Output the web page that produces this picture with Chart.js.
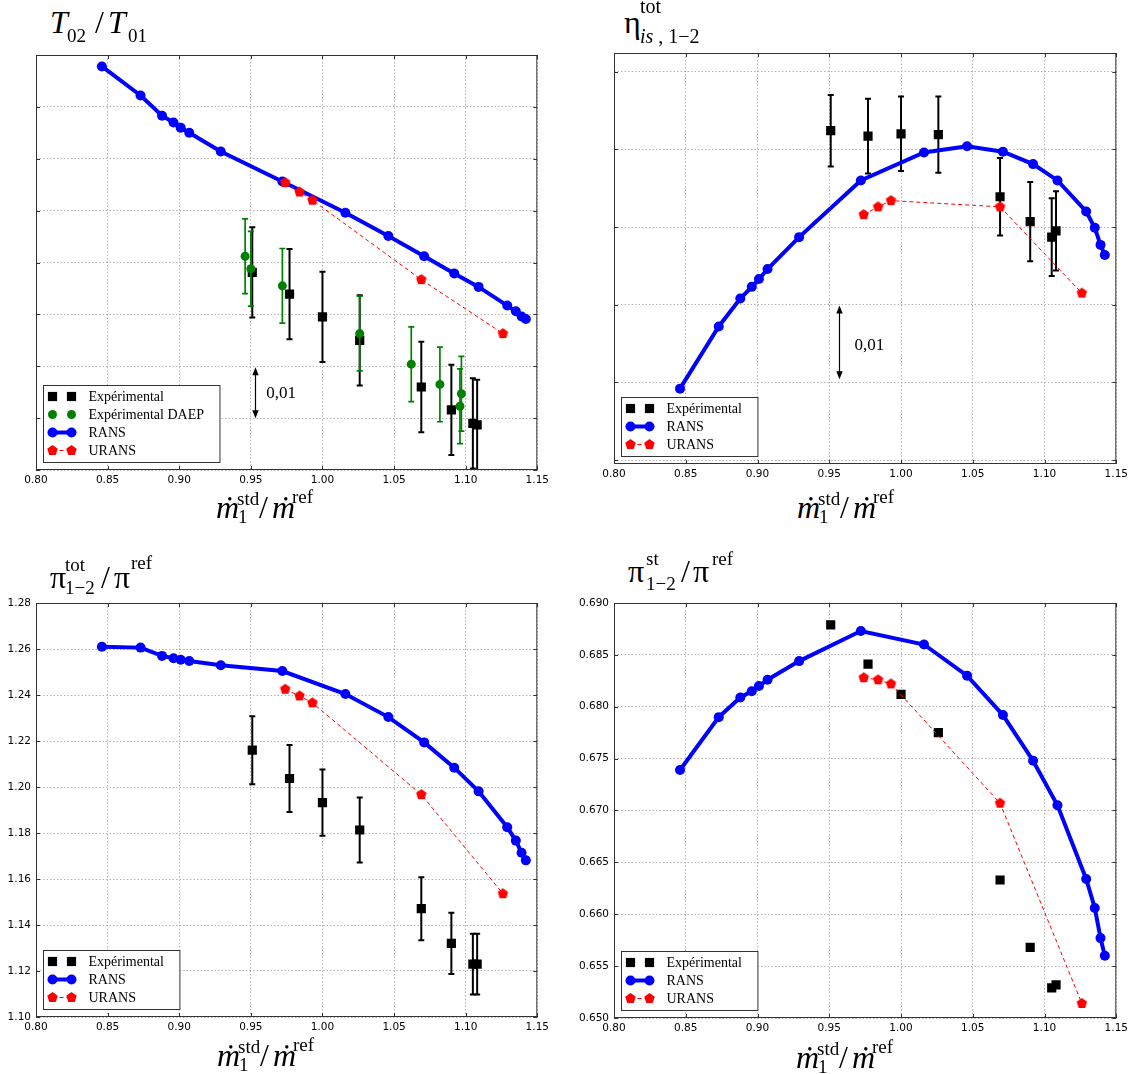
<!DOCTYPE html>
<html>
<head>
<meta charset="utf-8">
<script src="https://cdn.jsdelivr.net/npm/chart.js@4.4.1/dist/chart.umd.min.js"></script>
<style>
body { margin: 0; background: #fff; }
#page { position: relative; width: 1134px; height: 1074px; overflow: hidden; }
canvas { position: absolute; }
.t { position: absolute; font-family: "Liberation Serif", "DejaVu Serif", serif; white-space: nowrap; color: #000; }
</style>
</head>
<body>
<div id="page">
  <canvas id="c1"></canvas>
  <canvas id="c2"></canvas>
  <canvas id="c3"></canvas>
  <canvas id="c4"></canvas>
</div>

<script>
// mass flow positions, same operating points in every panel
const ransX = [0.846, 0.873, 0.888, 0.896, 0.901, 0.907, 0.929, 0.972, 1.016, 1.046, 1.071, 1.092, 1.109, 1.129, 1.135, 1.139, 1.142];
const uransX = [0.974, 0.984, 0.993, 1.069, 1.126];
const expX = [0.951, 0.977, 1.000, 1.026, 1.069, 1.090, 1.105, 1.108];
const daepX = [0.946, 0.950, 0.972, 1.026, 1.062, 1.082, 1.096, 1.097];
const xTicks = [0.80, 0.85, 0.90, 0.95, 1.00, 1.05, 1.10, 1.15];

// T02/T01 -- tick labels are blanked in the source, values relative to the bottom of the axis
const tRatioRans = [0.0778, 0.0722, 0.0683, 0.0670, 0.0660, 0.0650, 0.0614, 0.0556, 0.0496, 0.0451, 0.0412, 0.0379, 0.0353, 0.0317, 0.0306, 0.0296, 0.0291];
const tRatioUrans = [0.0554, 0.0536, 0.0520, 0.0367, 0.0263];
const tRatioExp = [0.0381, 0.0339, 0.0295, 0.0250, 0.0160, 0.0116, 0.0090, 0.0087];
const tRatioExpErr = [0.0087, 0.0087, 0.0087, 0.0087, 0.0087, 0.0087, 0.0087, 0.0087];
const tRatioDaep = [0.0412, 0.0388, 0.0355, 0.0263, 0.0204, 0.0165, 0.0123, 0.0147];
const tRatioDaepErr = [0.0072, 0.0072, 0.0072, 0.0072, 0.0072, 0.0072, 0.0072, 0.0072];
const tRatioTicks = [0, 0.01, 0.02, 0.03, 0.04, 0.05, 0.06, 0.07, 0.08];

// isentropic efficiency -- also blanked, relative to the lowest grid line
const etaRans = [0.0092, 0.0172, 0.0208, 0.0223, 0.0233, 0.0246, 0.0287, 0.0360, 0.0396, 0.0404, 0.0397, 0.0381, 0.0360, 0.0320, 0.0299, 0.0277, 0.0264];
const etaUrans = [0.0316, 0.0326, 0.0334, 0.0326, 0.0215];
const etaExp = [0.0424, 0.0417, 0.0420, 0.0419, 0.0339, 0.0307, 0.0287, 0.0295];
const etaExpErr = [0.0046, 0.0048, 0.0048, 0.0049, 0.0050, 0.0051, 0.0050, 0.0051];
const etaTicks = [0, 0.01, 0.02, 0.03, 0.04, 0.05];

// total pressure ratio
const piTotRans = [1.2610, 1.2606, 1.2570, 1.2560, 1.2553, 1.2548, 1.2529, 1.2504, 1.2404, 1.2304, 1.2194, 1.2084, 1.1981, 1.1825, 1.1767, 1.1714, 1.1681];
const piTotUrans = [1.2425, 1.2396, 1.2366, 1.1967, 1.1536];
const piTotExp = [1.2160, 1.2037, 1.1932, 1.1813, 1.1471, 1.1320, 1.1230, 1.1230];
const piTotExpErr = [0.0148, 0.0146, 0.0144, 0.0141, 0.0137, 0.0133, 0.0132, 0.0132];
const piTotTicks = [1.10, 1.12, 1.14, 1.16, 1.18, 1.20, 1.22, 1.24, 1.26, 1.28];

// static pressure ratio
const piStRans = [0.6739, 0.6790, 0.6809, 0.6815, 0.6820, 0.6826, 0.6844, 0.6873, 0.6860, 0.6830, 0.6792, 0.6748, 0.6705, 0.6634, 0.6606, 0.6577, 0.6560];
const piStUrans = [0.6828, 0.6826, 0.6822, 0.6707, 0.6514];
const piStExp = [0.6879, 0.6841, 0.6812, 0.6775, 0.6633, 0.6568, 0.6529, 0.6532];
const piStTicks = [0.650, 0.655, 0.660, 0.665, 0.670, 0.675, 0.680, 0.685, 0.690];

const SERIF = '"Liberation Serif", "DejaVu Serif", serif';
const page = document.getElementById('page');

// text piece placed by its baseline (Liberation Serif ascent/descent 0.891/0.216)
function put(html, x, base, size, italic) {
  const s = document.createElement('span');
  s.className = 't';
  s.innerHTML = html;
  s.style.left = x + 'px';
  s.style.top = (base - 0.8375 * size) + 'px';
  s.style.fontSize = size + 'px';
  s.style.lineHeight = size + 'px';
  if (italic) s.style.fontStyle = 'italic';
  page.appendChild(s);
}

// panel titles
put('T', 50, 33, 32, true); put('02', 67, 42, 19); put('/', 95, 33, 32);
put('T', 108, 33, 32, true); put('01', 128, 42, 19);

put('η', 624, 33, 32); put('tot', 640, 13, 20); put('<i>is</i> , 1−2', 640, 43, 20);

put('π', 50, 588, 32); put('tot', 65, 571, 19); put('1−2', 65, 594, 19);
put('/', 101, 588, 32); put('π', 114, 588, 32); put('ref', 131, 569, 19);

put('π', 628, 582, 32); put('st', 646, 565, 19); put('1−2', 646, 590, 19);
put('/', 681, 582, 32); put('π', 693, 582, 32); put('ref', 712, 565, 19);

// x axis label, same for every panel
function xLabel(x, base) {
  put('ṁ', x, base, 32, true);
  put('std', x + 21, base - 13, 19);
  put('1', x + 22, base + 5, 19);
  put('/', x + 43, base, 32);
  put('ṁ', x + 56, base, 32, true);
  put('ref', x + 76, base - 15, 19);
}
xLabel(216, 518);
xLabel(797, 518);
xLabel(217, 1066);
xLabel(796, 1068);

// Chart.js has no pentagon marker, so make one
function pentagon(color, r) {
  const c = document.createElement('canvas');
  const s = Math.ceil(r * 2 + 2);
  c.width = c.height = s;
  const g = c.getContext('2d');
  g.fillStyle = color;
  g.beginPath();
  for (let k = 0; k < 5; k++) {
    const a = -Math.PI / 2 + k * 2 * Math.PI / 5;
    g.lineTo(s / 2 + r * Math.cos(a), s / 2 + r * Math.sin(a));
  }
  g.closePath();
  g.fill();
  return c;
}
const redPentagon = pentagon('#ff0000', 5.5);

const pts = (xs, ys) => xs.map((x, i) => ({ x, y: ys[i] }));

function expSet(ys, err) {
  return {
    label: 'Expérimental', data: pts(expX, ys), errorBars: err, errColor: '#000', errWidth: 2,
    showLine: false, pointStyle: 'rect', pointRadius: 6.5, pointBorderWidth: 0,
    backgroundColor: '#000', borderColor: '#000', order: 3
  };
}
function daepSet(ys, err) {
  return {
    label: 'Expérimental DAEP', data: pts(daepX, ys), errorBars: err, errColor: '#008000', errWidth: 1.7,
    showLine: false, pointStyle: 'circle', pointRadius: 4.5, pointBorderWidth: 0,
    backgroundColor: '#008000', borderColor: '#008000', order: 2
  };
}
function ransSet(ys) {
  return {
    label: 'RANS', data: pts(ransX, ys), showLine: true, borderColor: '#0000ff', borderWidth: 4,
    pointStyle: 'circle', pointRadius: 5, pointBorderWidth: 0, pointBackgroundColor: '#0000ff',
    backgroundColor: '#0000ff', order: 1
  };
}
function uransSet(ys) {
  return {
    label: 'URANS', data: pts(uransX, ys), showLine: true, borderColor: '#ff0000', borderWidth: 1,
    borderDash: [4, 3], pointStyle: redPentagon, pointRadius: 5, backgroundColor: '#ff0000', order: 0
  };
}

function drawMarker(ctx, ds, x, y) {
  ctx.fillStyle = ds.backgroundColor;
  if (ds.pointStyle === 'rect') {
    const h = ds.pointRadius * Math.SQRT1_2;
    ctx.fillRect(x - h, y - h, 2 * h, 2 * h);
  } else if (ds.pointStyle === 'circle') {
    ctx.beginPath();
    ctx.arc(x, y, ds.pointRadius, 0, 2 * Math.PI);
    ctx.fill();
  } else {
    const im = ds.pointStyle;
    ctx.drawImage(im, x - im.width / 2, y - im.height / 2);
  }
}

// error bars, frame with inward ticks, arrow note and legend box
function decorations(p) {
  return {
    id: 'deco',
    beforeDatasetDraw(chart, args) {
      const ds = chart.data.datasets[args.index];
      if (!ds.errorBars) return;
      const ctx = chart.ctx, ys = chart.scales.y, a = chart.chartArea;
      ctx.save();
      ctx.beginPath();
      ctx.rect(a.left, a.top, a.right - a.left, a.bottom - a.top);
      ctx.clip();
      ctx.strokeStyle = ds.errColor;
      ctx.lineWidth = ds.errWidth;
      args.meta.data.forEach((el, i) => {
        const v = ds.data[i].y, e = ds.errorBars[i];
        const y1 = ys.getPixelForValue(v + e), y2 = ys.getPixelForValue(v - e);
        ctx.beginPath();
        ctx.moveTo(el.x, y1); ctx.lineTo(el.x, y2);
        ctx.moveTo(el.x - 3, y1); ctx.lineTo(el.x + 3, y1);
        ctx.moveTo(el.x - 3, y2); ctx.lineTo(el.x + 3, y2);
        ctx.stroke();
      });
      ctx.restore();
    },
    afterDatasetsDraw(chart) {
      if (!p.note) return;
      const ctx = chart.ctx, xs = chart.scales.x, ys = chart.scales.y;
      const n = p.note;
      const x = Math.round(xs.getPixelForValue(n.x)) + 0.5;
      const yTop = ys.getPixelForValue(n.y2), yBot = ys.getPixelForValue(n.y1);
      ctx.save();
      ctx.strokeStyle = '#000';
      ctx.fillStyle = '#000';
      ctx.lineWidth = 1.2;
      ctx.beginPath();
      ctx.moveTo(x, yTop + 6); ctx.lineTo(x, yBot - 6);
      ctx.stroke();
      ctx.beginPath();
      ctx.moveTo(x, yTop); ctx.lineTo(x - 3.2, yTop + 8); ctx.lineTo(x + 3.2, yTop + 8); ctx.closePath();
      ctx.moveTo(x, yBot); ctx.lineTo(x - 3.2, yBot - 8); ctx.lineTo(x + 3.2, yBot - 8); ctx.closePath();
      ctx.fill();
      ctx.font = '17px ' + SERIF;
      ctx.textBaseline = 'middle';
      ctx.textAlign = 'left';
      ctx.fillText(n.text, xs.getPixelForValue(n.tx), ys.getPixelForValue(n.ty));
      ctx.restore();
    },
    afterDraw(chart) {
      const ctx = chart.ctx, a = chart.chartArea, xs = chart.scales.x, ys = chart.scales.y;
      ctx.save();
      ctx.strokeStyle = '#333';
      ctx.lineWidth = 1;
      ctx.strokeRect(a.left + 0.5, a.top + 0.5, a.right - a.left - 1, a.bottom - a.top - 1);
      ctx.beginPath();
      xs.ticks.forEach(t => {
        const px = Math.round(xs.getPixelForValue(t.value)) + 0.5;
        ctx.moveTo(px, a.bottom); ctx.lineTo(px, a.bottom - 4);
        ctx.moveTo(px, a.top); ctx.lineTo(px, a.top + 4);
      });
      ys.ticks.forEach(t => {
        const py = Math.round(ys.getPixelForValue(t.value)) + 0.5;
        ctx.moveTo(a.left, py); ctx.lineTo(a.left + 4, py);
        ctx.moveTo(a.right, py); ctx.lineTo(a.right - 4, py);
      });
      ctx.stroke();

      // legend, matplotlib style: two markers per entry
      const items = chart.data.datasets;
      ctx.font = '14px ' + SERIF;
      const tw = Math.max(...items.map(d => ctx.measureText(d.label).width));
      const w = 45 + tw + 16, h = 23 + (items.length - 1) * 18;
      const bx = a.left + 7.5, by = a.bottom - 7.5 - h;
      ctx.fillStyle = '#fff';
      ctx.fillRect(bx, by, w, h);
      ctx.strokeStyle = '#333';
      ctx.strokeRect(bx, by, w, h);
      items.forEach((d, i) => {
        const cy = by + 11 + i * 18;
        if (d.showLine) {
          ctx.save();
          ctx.strokeStyle = d.borderColor;
          ctx.lineWidth = d.borderWidth;
          ctx.setLineDash(d.borderDash || []);
          ctx.beginPath();
          ctx.moveTo(bx + 9, cy); ctx.lineTo(bx + 28, cy);
          ctx.stroke();
          ctx.restore();
        }
        drawMarker(ctx, d, bx + 9, cy);
        drawMarker(ctx, d, bx + 28, cy);
        ctx.fillStyle = '#000';
        ctx.textBaseline = 'middle';
        ctx.fillText(d.label, bx + 45, cy + 1);
      });
      ctx.restore();
    }
  };
}

function makeChart(p) {
  const cv = document.getElementById(p.id);
  const pt = 12, pr = 14, xh = 24;
  const left = p.area.l - p.yw, top = p.area.t - pt;
  cv.width = p.area.r - left + pr;
  cv.height = p.area.b + xh - top;
  cv.style.left = left + 'px';
  cv.style.top = top + 'px';
  const gridCol = '#b4b4b4';
  return new Chart(cv, {
    type: 'scatter',
    data: { datasets: p.datasets },
    options: {
      responsive: false,
      animation: false,
      layout: { padding: { left: 0, top: pt, right: pr, bottom: 0 } },
      plugins: { legend: { display: false }, tooltip: { enabled: false } },
      scales: {
        x: {
          type: 'linear', min: 0.8, max: 1.15,
          afterBuildTicks: s => { s.ticks = xTicks.map(v => ({ value: v })); },
          afterFit: s => { s.height = xh; },
          grid: { color: gridCol, lineWidth: 1, drawTicks: false },
          border: { display: false, dash: [1.5, 2] },
          ticks: { color: '#000', padding: 4, maxRotation: 0, autoSkip: false,
                   font: { family: 'DejaVu Sans', size: 10.5 }, callback: v => v.toFixed(2) }
        },
        y: {
          type: 'linear', min: p.ymin, max: p.ymax,
          afterBuildTicks: s => { s.ticks = p.yTicks.map(v => ({ value: v })); },
          afterFit: s => { s.width = p.yw; },
          grid: { color: gridCol, lineWidth: 1, drawTicks: false },
          border: { display: false, dash: [1.5, 2] },
          ticks: { display: p.yLabels, color: '#000', padding: 5, autoSkip: false,
                   font: { family: 'DejaVu Sans', size: 10.5 }, callback: v => v.toFixed(p.yDec) }
        }
      }
    },
    plugins: [decorations(p)]
  });
}

const panels = [
  {
    id: 'c1', area: { l: 36, t: 55, r: 539, b: 470 }, yw: 36,
    ymin: 0, ymax: 0.08, yTicks: tRatioTicks, yLabels: false, yDec: 2,
    datasets: [expSet(tRatioExp, tRatioExpErr), daepSet(tRatioDaep, tRatioDaepErr), ransSet(tRatioRans), uransSet(tRatioUrans)],
    note: { x: 0.9532, y1: 0.0100, y2: 0.0198, tx: 0.9607, ty: 0.0148, text: '0,01' }
  },
  {
    id: 'c2', area: { l: 614, t: 53, r: 1118, b: 464 }, yw: 44,
    ymin: -0.0005, ymax: 0.0524, yTicks: etaTicks, yLabels: false, yDec: 2,
    datasets: [expSet(etaExp, etaExpErr), ransSet(etaRans), uransSet(etaUrans)],
    note: { x: 0.957, y1: 0.0104, y2: 0.0199, tx: 0.9676, ty: 0.0148, text: '0,01' }
  },
  {
    id: 'c3', area: { l: 36, t: 603, r: 539, b: 1017 }, yw: 36,
    ymin: 1.10, ymax: 1.28, yTicks: piTotTicks, yLabels: true, yDec: 2,
    datasets: [expSet(piTotExp, piTotExpErr), ransSet(piTotRans), uransSet(piTotUrans)]
  },
  {
    id: 'c4', area: { l: 614, t: 603, r: 1118, b: 1018 }, yw: 44,
    ymin: 0.650, ymax: 0.690, yTicks: piStTicks, yLabels: true, yDec: 3,
    datasets: [expSet(piStExp, null), ransSet(piStRans), uransSet(piStUrans)]
  }
];

panels.forEach(makeChart);
</script>
</body>
</html>
